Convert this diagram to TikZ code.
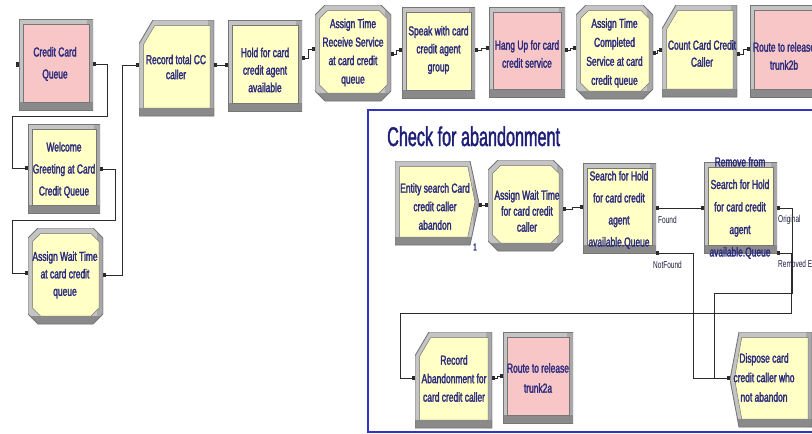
\documentclass[tikz,border=0pt]{standalone}
\usepackage{fontspec}
\setmainfont{Liberation Sans}
\newfontfamily\arenafont[FakeStretch=0.65,FakeBold=2]{Liberation Sans}
\newfontfamily\labelfont[FakeStretch=0.65]{Liberation Sans}
\newfontfamily\titlefont[FakeStretch=0.6,FakeBold=1.5]{Liberation Sans}
\usetikzlibrary{arrows.meta}

\definecolor{faceyellow}{HTML}{FFFFC6}
\definecolor{facepink}{HTML}{F8C6C6}
\definecolor{framelight}{HTML}{C4C4C4}
\definecolor{frameside}{HTML}{A8A8A8}
\definecolor{framelow}{HTML}{8A8A8A}
\definecolor{frameline}{HTML}{767676}
\definecolor{modink}{HTML}{2C2C7E}
\definecolor{titleink}{HTML}{1E1E78}
\definecolor{labelink}{HTML}{1A1A3A}
\definecolor{groupblue}{HTML}{3434C4}
\definecolor{wireink}{HTML}{2B2B2B}

% outlines of the module kinds, given the bounds \mL \mR \mT \mB,
% the mid height \mM and the cut size \mc
\def\arenaRect{(\mL,\mB) rectangle (\mR,\mT)}
\def\arenaAssign{(\mL+\mc,\mT) -- (\mR-\mc,\mT) -- (\mR,\mT-\mc) -- (\mR,\mB+\mc) -- (\mR-\mc,\mB) -- (\mL+\mc,\mB) -- (\mL,\mB+\mc) -- (\mL,\mT-\mc) -- cycle}
\def\arenaRecord{(\mL+\mc,\mT) -- (\mR,\mT) -- (\mR,\mB) -- (\mL,\mB) -- (\mL,\mT-1.7*\mc) -- cycle}
\def\arenaCreate{(\mL,\mT) -- (\mR-\mc,\mT) -- (\mR,\mM) -- (\mR-\mc,\mB) -- (\mL,\mB) -- cycle}
\def\arenaDispose{(\mL+\mc,\mT) -- (\mR,\mT) -- (\mR,\mB) -- (\mL+\mc,\mB) -- (\mL,\mM) -- cycle}
\def\arenaRectCut{0pt}
\def\arenaAssignCut{10pt}
\def\arenaRecordCut{14pt}
\def\arenaCreateCut{9pt}
\def\arenaDisposeCut{9pt}

% bevelled frame and coloured face of a module
\newcommand\arenamodule[2]{%
  \pgfpointanchor{path picture bounding box}{south west}\pgfgetlastxy\mL\mB
  \pgfpointanchor{path picture bounding box}{north east}\pgfgetlastxy\mR\mT
  \expandafter\let\expandafter\arenaoutline\csname arena#1\endcsname
  \edef\mc{\csname arena#1Cut\endcsname}%
  \edef\mM{\the\dimexpr(\mT+\mB)/2\relax}%
  \fill[framelight] \arenaoutline;
  \begin{scope}
    \clip (\mR-6pt,\mT) rectangle (\mR,\mB);
    \fill[frameside] \arenaoutline;
  \end{scope}
  \begin{scope}
    \clip (\mL,\mB) rectangle (\mR,\mB+8pt);
    \fill[framelow] \arenaoutline;
  \end{scope}
  \draw[frameline, line width=0.9pt] \arenaoutline;
  \edef\mL{\the\dimexpr\mL+4.5pt\relax}%
  \edef\mR{\the\dimexpr\mR-4pt\relax}%
  \edef\mT{\the\dimexpr\mT-5.5pt\relax}%
  \edef\mB{\the\dimexpr\mB+8pt\relax}%
  \edef\mM{\the\dimexpr(\mT+\mB)/2\relax}%
  \edef\mc{\the\dimexpr\mc*4/5\relax}%
  \fill[#2] \arenaoutline;
  \draw[frameline, line width=0.5pt] \arenaoutline;
}

\begin{document}
\begin{tikzpicture}[x=1pt, y=-1pt,
  module/.style 2 args={rectangle, fill=white, inner sep=0pt, outer sep=0pt,
    path picture={\arenamodule{#1}{#2}}},
  modsize/.style 2 args={minimum width=#1pt, minimum height=#2pt},
  arenatext/.style={font=\arenafont\fontsize{13}{#1}\selectfont, text=modink,
    align=center, inner sep=0pt},
  arenatext/.default=17.5,
  portlabel/.style={font=\labelfont\fontsize{10}{12}\selectfont, text=labelink,
    inner sep=0pt, anchor=west},
  counter/.style={font=\arenafont\fontsize{10}{12}\selectfont, text=modink, inner sep=0pt},
  grouptitle/.style={font=\titlefont\fontsize{27}{30}\selectfont, text=titleink, inner sep=0pt},
  groupframe/.style={draw=groupblue, line width=1.2pt},
  port/.style={rectangle, fill=wireink, minimum width=3.5pt, minimum height=5pt, inner sep=0pt},
  wire/.style={draw=wireink, line width=0.9pt,
    arrows={Square[length=3pt,width=4.5pt]-Square[length=3pt,width=4.5pt]}},
]
\useasboundingbox (0,0) rectangle (812,434);
\clip (0,0) rectangle (812,434);

% submodel frame
\draw[groupframe] (368,110) rectangle (830,432);
\node[grouptitle, anchor=base west] (grp-title) at (387,146) {Check for abandonment};

% main line of modules
\node[module={Rect}{facepink}, modsize={74}{91}] (ccq) at (56,64.5) {};
\node[module={Rect}{faceyellow}, modsize={72}{89}] (wel) at (64,168.5) {};
\node[module={Assign}{faceyellow}, modsize={75}{96}] (awt) at (65.5,276) {};
\node[module={Record}{faceyellow}, modsize={75}{96}] (rec) at (176.5,68) {};
\node[module={Rect}{faceyellow}, modsize={74}{91}] (hold) at (265,65.5) {};
\node[module={Assign}{faceyellow}, modsize={76}{96}] (art) at (353,53) {};
\node[module={Rect}{faceyellow}, modsize={73}{91}] (spk) at (438.5,52.5) {};
\node[module={Rect}{facepink}, modsize={76}{90}] (hang) at (527,52) {};
\node[module={Assign}{faceyellow}, modsize={77}{94}] (atc) at (614.5,52) {};
\node[module={Record}{faceyellow}, modsize={75}{92}] (cnt) at (699.5,51) {};
\node[module={Rect}{facepink}, modsize={75}{92}] (rtb) at (787.5,51) {};

% abandonment check
\node[module={Create}{faceyellow}, modsize={84}{84}] (ent) at (437,203) {};
\node[module={Assign}{faceyellow}, modsize={75}{91}] (awc) at (525.5,205.5) {};
\node[module={Rect}{faceyellow}, modsize={73}{90}] (srch) at (619.5,208) {};
\node[module={Rect}{faceyellow}, modsize={73}{91}] (rem) at (740.5,207.5) {};
\node[module={Record}{faceyellow}, modsize={77}{96}] (rab) at (453.5,380) {};
\node[module={Rect}{facepink}, modsize={70}{91}] (rta) at (538,377.5) {};
\node[module={Dispose}{faceyellow}, modsize={82}{95}] (dsp) at (771,379.5) {};

% module captions
\node[arenatext=22] (ccq-t) at (55,64) {Credit Card\\Queue};
\node[arenatext=22] (wel-t) at (64,170) {Welcome\\Greeting at Card\\Credit Queue};
\node[arenatext] (awt-t) at (65,275) {Assign Wait Time\\at card credit\\queue};
\node[arenatext=15] (rec-t) at (176,67) {Record total CC\\caller};
\node[arenatext] (hold-t) at (265,70) {Hold for card\\credit agent\\available};
\node[arenatext=18.5] (art-t) at (353,52.5) {Assign Time\\Receive Service\\at card credit\\queue};
\node[arenatext=18] (spk-t) at (438.5,50) {Speak with card\\credit agent\\group};
\node[arenatext=18] (hang-t) at (527,54) {Hang Up for card\\credit service};
\node[arenatext=19] (atc-t) at (614.5,53) {Assign Time\\Completed\\Service at card\\credit queue};
\node[arenatext=17] (cnt-t) at (702,53.5) {Count Card Credit\\Caller};
\node[arenatext=18] (rtb-t) at (784,56) {Route to release\\trunk2b};
\node[arenatext=18.5] (ent-t) at (435,206.5) {Entity search Card\\credit caller\\abandon};
\node[arenatext=16] (awc-t) at (527,211) {Assign Wait Time\\for card credit\\caller};
\node[arenatext=22] (srch-t) at (619,210) {Search for Hold\\for card credit\\agent\\available.Queue};
\node[arenatext=22.5] (rem-t) at (740,208) {Remove from\\Search for Hold\\for card credit\\agent\\available.Queue};
\node[arenatext=18.5] (rab-t) at (454,378.5) {Record\\Abandonment for\\card credit caller};
\node[arenatext=20] (rta-t) at (538,378) {Route to release\\trunk2a};
\node[arenatext=19.5] (dsp-t) at (764,377.5) {Dispose card\\credit caller who\\not abandon};

% counters and exit labels
\node[counter] (ent-count) at (475,247) {1};
\node[portlabel] (lbl-found) at (658,220) {Found};
\node[portlabel] (lbl-notfound) at (653,265) {NotFound};
\node[portlabel] (lbl-original) at (778,220) {Original};
\node[portlabel] (lbl-removed) at (778,265) {Removed Entity};

% entry point of the first queue
\node[port] (ccq-port) at (17.5,64) {};

% connectors of the main line
\draw[wire] (ccq.east |- 0,64) -- ++(14,0) |- (12,116) |- (wel.west |- 0,168);
\draw[wire] (wel.east |- 0,169) -- ++(15,0) |- (12,220) |- (awt.west |- 0,273);
\draw[wire] (awt.east |- 0,275) -- ++(19,0) |- (rec.west |- 0,65);
\draw[wire] (rec.east |- 0,65) -- (hold.west |- 0,65);
\draw[wire] (hold.east |- 0,58) -- ++(6,0) |- (art.west |- 0,49);
\draw[wire] (art.east |- 0,54) -- ++(5,0) |- (spk.west |- 0,50);
\draw[wire] (spk.east |- 0,50) -- ++(6,0) |- (hang.west |- 0,48);
\draw[wire] (hang.east |- 0,50) -- ++(5,0) |- (atc.west |- 0,48);
\draw[wire] (atc.east |- 0,53) -- ++(4,0) |- (cnt.west |- 0,50);
\draw[wire] (cnt.east |- 0,54) -- ++(6,0) |- (rtb.west |- 0,49);

% connectors of the abandonment check
\draw[wire] (ent.east |- 0,205) -- (awc.west |- 0,205);
\draw[wire] (awc.east |- 0,209) -- ++(9,0) |- (srch.west |- 0,207);
\draw[wire] (srch.east |- 0,208) -- (rem.west |- 0,208);
\draw[wire] (srch.south east) -- ++(37,0) |- (dsp.west |- 0,378);
\draw[wire] (rem.east |- 0,208) -- ++(15,0) |- (714,293) |- (dsp.west |- 0,378);
\draw[wire] (rem.south east) -- ++(14,0) |- (400,313) |- (rab.west |- 0,378);
\draw[wire] (rab.east |- 0,378) -- ++(5,0) |- (rta.west |- 0,376);
\end{tikzpicture}
\end{document}
